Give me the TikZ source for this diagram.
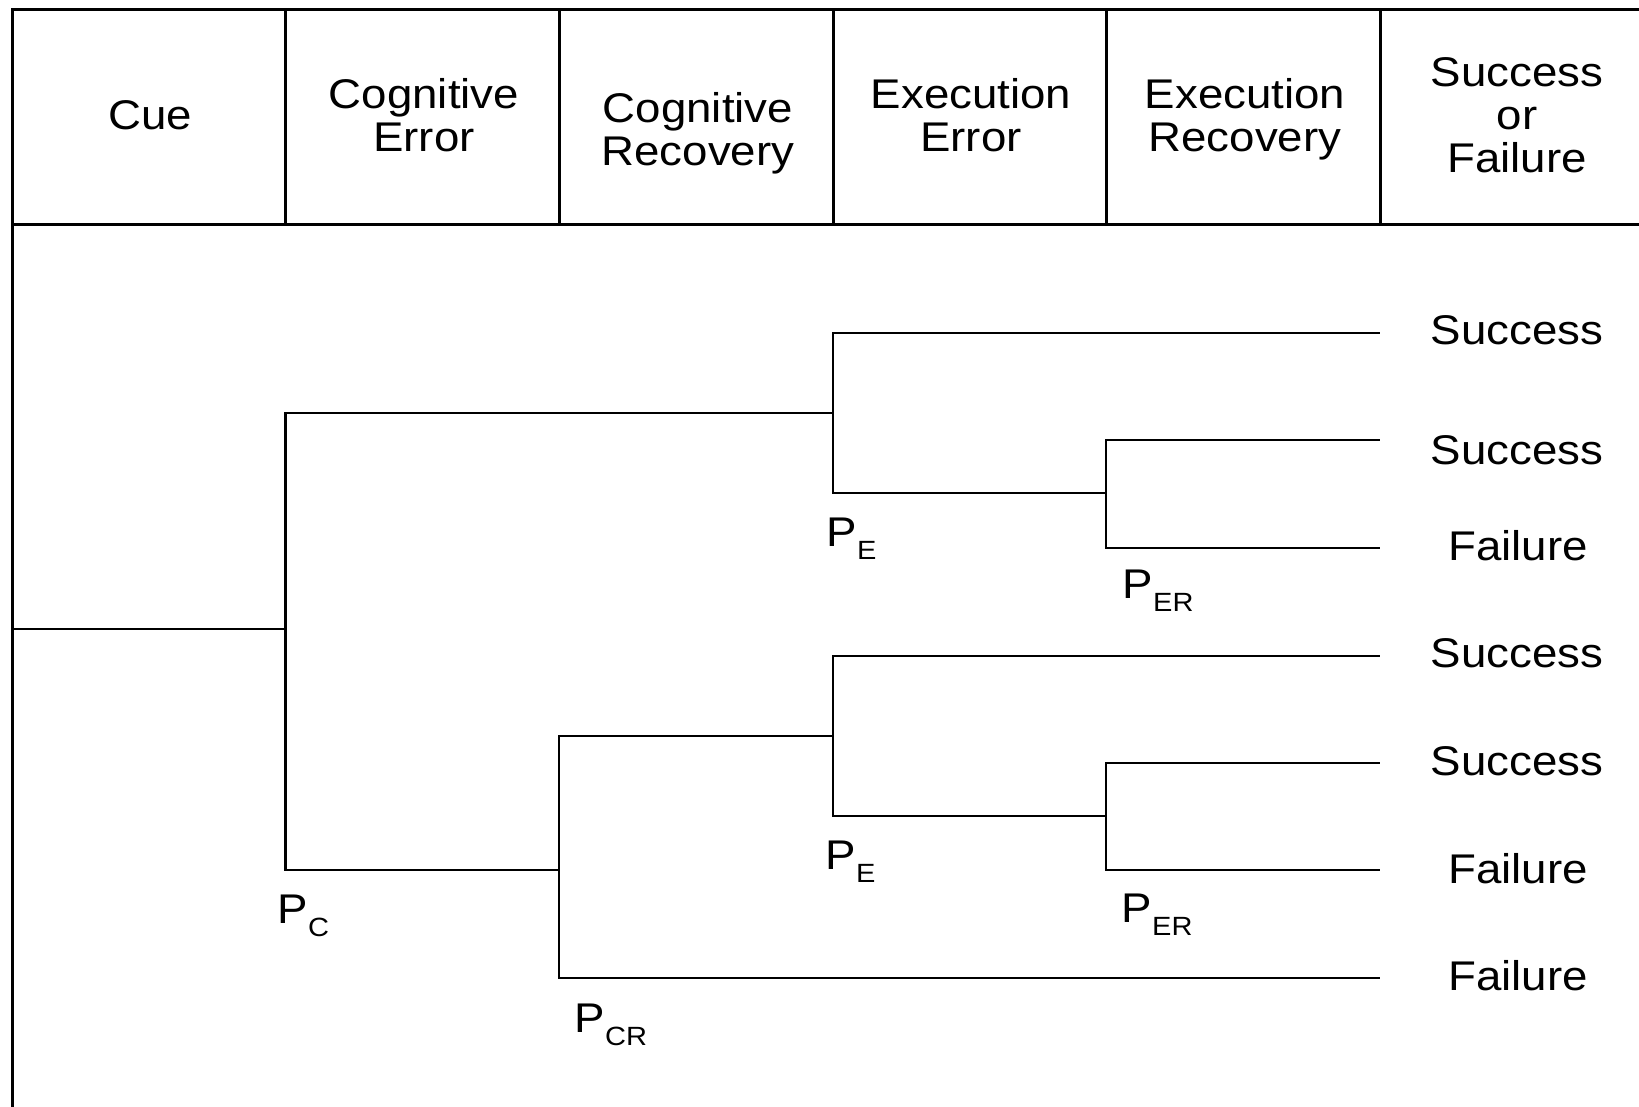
\documentclass[tikz,border=0pt]{standalone}
\usepackage{fontspec}
\setmainfont{Liberation Sans}[FakeStretch=1.1]
\newcommand{\prob}[1]{P\raisebox{-3.5pt}{\fontsize{7.5pt}{7.5pt}\selectfont #1}}

\tikzset{
  frameline/.style={line width=0.85pt},
  branch/.style={line width=0.7pt},
  headtext/.style={align=center, font=\fontsize{11.8pt}{12.2pt}\selectfont, inner sep=0pt},
  outtext/.style={font=\fontsize{11.8pt}{12.2pt}\selectfont, inner sep=0pt},
  problabel/.style={anchor=base west, font=\fontsize{11.8pt}{12pt}\selectfont, inner sep=0pt},
}

\begin{document}
\begin{tikzpicture}[x=0.01cm, y=-0.01cm]
\useasboundingbox (0,0) rectangle (1639,1107);

% Header table
\draw[frameline] (1639,9.5) -- (12.5,9.5) -- (12.5,1107);
\draw[frameline] (12.5,225) -- (1639,225);
\foreach \x in {285.5,559,833,1106,1380}
  \draw[frameline] (\x,9.5) -- (\x,225);

\node[headtext] (cue) at (150,115) {Cue};
\node[headtext] (cogerr) at (424,115) {Cognitive\\Error};
\node[headtext] (cogrec) at (698,133) {Cognitive\\Recovery};
\node[headtext] (exeerr) at (971,115) {Execution\\Error};
\node[headtext] (exerec) at (1245,119) {Execution\\Recovery};
\node[headtext] (outcome) at (1517,115) {Success\\or\\Failure};

% Branch points
\coordinate (root) at (12.5,629);
\coordinate (pc) at (285.5,629);
\coordinate (pe1) at (833,413);
\coordinate (per1) at (1106,493);
\coordinate (pcr) at (559,870);
\coordinate (pe2) at (833,736);
\coordinate (per2) at (1106,816);

% Branch ends
\coordinate (end1) at (1380,333);
\coordinate (end2) at (1380,440);
\coordinate (end3) at (1380,548);
\coordinate (end4) at (1380,656);
\coordinate (end5) at (1380,763);
\coordinate (end6) at (1380,870);
\coordinate (end7) at (1380,978);

% Tree
\draw[branch] (root) -- (pc);
\draw[branch] (pc) |- (pe1);
\draw[branch] (pc) |- (pcr);
\draw[branch] (pe1) |- (end1);
\draw[branch] (pe1) |- (per1);
\draw[branch] (per1) |- (end2);
\draw[branch] (per1) |- (end3);
\draw[branch] (pcr) |- (pe2);
\draw[branch] (pcr) |- (end7);
\draw[branch] (pe2) |- (end4);
\draw[branch] (pe2) |- (per2);
\draw[branch] (per2) |- (end5);
\draw[branch] (per2) |- (end6);

% Outcomes
\node[outtext] (out1) at (1517,330) {Success};
\node[outtext] (out2) at (1517,450) {Success};
\node[outtext] (out3) at (1518,546) {Failure};
\node[outtext] (out4) at (1517,653) {Success};
\node[outtext] (out5) at (1517,761) {Success};
\node[outtext] (out6) at (1518,869) {Failure};
\node[outtext] (out7) at (1518,976) {Failure};

% Probabilities
\node[problabel] (lpe1) at (826,547) {\prob{E}};
\node[problabel] (lper1) at (1122,599) {\prob{ER}};
\node[problabel] (lpc) at (277,924) {\prob{C}};
\node[problabel] (lpcr) at (574,1033) {\prob{CR}};
\node[problabel] (lpe2) at (825,870) {\prob{E}};
\node[problabel] (lper2) at (1121,923) {\prob{ER}};
\end{tikzpicture}
\end{document}
